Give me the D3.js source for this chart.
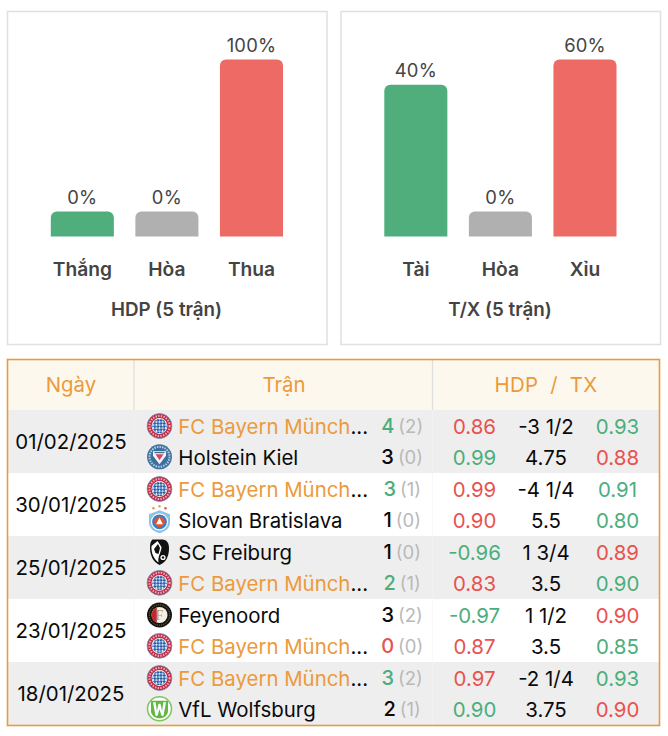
<!DOCTYPE html>
<html><head><meta charset="utf-8">
<script src="https://cdn.jsdelivr.net/npm/d3@7"></script>
<style>html,body{margin:0;padding:0;background:#fff}svg{display:block}text{font-family:Inter,"Noto Sans",sans-serif}</style>
</head><body><div id="c"></div>
<script>
// ---- data ----
const hdpCategories = ["Thắng","Hòa","Thua"];
const hdpValues = [0,0,100];
const hdpTitle = "HDP (5 trận)";
const txCategories = ["Tài","Hòa","Xỉu"];
const txValues = [40,0,60];
const txTitle = "T/X (5 trận)";
const tableHeaders = ["Ngày","Trận","HDP  /  TX"];
const dates = ["01/02/2025","30/01/2025","25/01/2025","23/01/2025","18/01/2025"];
const homeTeams = ["FC Bayern Münch","FC Bayern Münch","SC Freiburg","Feyenoord","FC Bayern Münch"];
const awayTeams = ["Holstein Kiel","Slovan Bratislava","FC Bayern Münch","FC Bayern Münch","VfL Wolfsburg"];
const homeGoals = [4,3,1,3,3];
const awayGoals = [3,1,2,0,2];
const homeHalf = [2,1,0,2,2];
const awayHalf = [0,0,1,0,1];
const homeOdds = [0.86,0.99,-0.96,-0.97,0.97];
const awayOdds = [0.99,0.90,0.83,0.87,0.90];
const hdpLines = ["-3 1/2","-4 1/4","1 3/4","1 1/2","-2 1/4"];
const txLines = ["4.75","5.5","3.5","3.5","3.75"];
const overOdds = [0.93,0.91,0.89,0.90,0.93];
const underOdds = [0.88,0.80,0.90,0.85,0.90];
const hdpSign = [[-1,1],[-1,-1],[1,-1],[1,-1],[-1,1]];   // colour of first odds column: +1 green, -1 red
const txSign = [[1,-1],[1,1],[-1,1],[-1,1],[1,-1]];      // colour of last odds column

const GREEN="#4fae7c",GREY="#b0b0b0",RED="#ee6a64",INK="#444",TG="#4bae7c",TR="#e8524f",OR="#ec9a3c",BK="#0a0a0a";
const svg=d3.select("#c").append("svg").attr("width",668).attr("height",736);
const defs=svg.append("defs");
const pat=defs.append("pattern").attr("id","loz").attr("width",4.4).attr("height",4.4).attr("patternUnits","userSpaceOnUse").attr("patternTransform","rotate(45) translate(0.5 0.5)");
pat.append("rect").attr("width",4.4).attr("height",4.4).attr("fill","#1f5aa8");
pat.append("rect").attr("width",2).attr("height",2).attr("fill","#e6ecf6");
pat.append("rect").attr("x",2.2).attr("y",2.2).attr("width",2).attr("height",2).attr("fill","#e6ecf6");

function panel(x0,cats,vals,title){
  const w=319.5;
  svg.append("rect").attr("x",x0+.5).attr("y",11.5).attr("width",w).attr("height",333)
    .attr("fill","#fff").attr("stroke","#e0e0e0").attr("stroke-width",1.5);
  const x=d3.scaleBand().domain(cats).range([x0+43.8,x0+276]).paddingInner(.2544).paddingOuter(0);
  const maxV=d3.max(vals);
  const h=d3.scalePow().exponent(.45).domain([0,1]).range([25,177]);
  const base=236.5;
  const col=[GREEN,GREY,RED];
  const g=svg.append("g");
  cats.forEach((c,i)=>{
    const bx=x(c),bw=x.bandwidth(),bh=h(vals[i]/maxV),r=6,t=base-bh;
    const p=d3.path();p.moveTo(bx,base);p.lineTo(bx,t+r);p.arcTo(bx,t,bx+r,t,r);p.lineTo(bx+bw-r,t);p.arcTo(bx+bw,t,bx+bw,t+r,r);p.lineTo(bx+bw,base);p.closePath();
    g.append("path").attr("fill",col[i]).attr("d",p.toString());
    g.append("text").attr("x",bx+bw/2).attr("y",t-7.6).attr("text-anchor","middle")
     .attr("font-size",18.4).attr("letter-spacing",.2).attr("fill",INK).text(vals[i]+"%");
    g.append("text").attr("x",bx+bw/2).attr("y",275.8).attr("text-anchor","middle")
     .attr("font-size",19.2).attr("font-weight",600).attr("fill",INK).text(c);
  });
  svg.append("text").attr("x",x0+159.5).attr("y",316.4).attr("text-anchor","middle")
     .attr("font-size",18.8).attr("font-weight",600).attr("fill",INK).text(title);
}
panel(7,hdpCategories,hdpValues,hdpTitle);
panel(340.5,txCategories,txValues,txTitle);

// ---- table ----
const FS=20.4;
const rowY=d3.scaleBand().domain(dates).range([410,725]);
svg.append("rect").attr("x",7).attr("y",359).attr("width",653).attr("height",51).attr("fill","#fdf8ee");
dates.forEach((d,i)=>{
  if(i%2==0) svg.append("rect").attr("x",7).attr("y",rowY(d)).attr("width",653).attr("height",rowY.bandwidth()).attr("fill","#eeeeee");
});
[134,432.5].forEach(x=>{
  svg.append("line").attr("x1",x).attr("x2",x).attr("y1",359).attr("y2",410).attr("stroke","#dedede").attr("stroke-width",1.2);
  svg.append("line").attr("x1",x).attr("x2",x).attr("y1",410).attr("y2",725).attr("stroke","#f4f4f4").attr("stroke-width",1).attr("stroke-opacity",.6);
});
svg.append("rect").attr("x",7.5).attr("y",359.5).attr("width",652).attr("height",366).attr("fill","none").attr("stroke",OR).attr("stroke-width",1.6);
[[71,0,0],[284,1,0],[546,2,.25]].forEach(([x,i,ls])=>{
  svg.append("text").attr("x",x).attr("y",392).attr("text-anchor","middle").attr("font-size",FS).attr("fill",OR)
    .attr("letter-spacing",ls).style("white-space","pre").text(tableHeaders[i]);
});

function bayern(g){
  g.append("circle").attr("r",12.4).attr("fill","#c12a42").attr("stroke","#6f8fc0").attr("stroke-width",.8);
  g.append("circle").attr("r",10.1).attr("fill","none").attr("stroke","#eeb4bd").attr("stroke-width",2).attr("stroke-dasharray","1.4 1.3");
  g.append("circle").attr("r",7.9).attr("fill","#fff");
  g.append("circle").attr("r",7.3).attr("fill","url(#loz)");
}
function kiel(g){
  g.append("circle").attr("r",12.5).attr("fill","#40749f");
  g.append("circle").attr("r",10).attr("fill","none").attr("stroke","#bcd2e4").attr("stroke-width",2).attr("stroke-dasharray","1.4 1.2");
  g.append("circle").attr("r",8).attr("fill","#3d6f9c");
  g.append("path").attr("d","M-6.5,-5.5H6.5V-1L0,7.5L-6.5,-1Z").attr("fill","#f2f5f8");
  g.append("path").attr("d","M-4,-2.5H4L0,3.5Z").attr("fill","#d9455a");
  g.append("rect").attr("x",-5).attr("y",-4.8).attr("width",10).attr("height",1.2).attr("fill","#3d6f9c");
}
function slovan(g){
  [[-6,-11.5,"#d9a05a"],[0,-13.5,"#c9a878"],[6,-11.5,"#c96a5a"]].forEach(([x,y,c])=>g.append("circle").attr("cx",x).attr("cy",y).attr("r",1.3).attr("fill",c));
  g.append("path").attr("d","M0,-9.5L10.5,-5.5V2.5C10.5,9 5,12 0,13.5C-5,12 -10.5,9 -10.5,2.5V-5.5Z").attr("fill","#8fc0e8");
  g.append("circle").attr("r",8.6).attr("cy",2).attr("fill","#fff");
  g.append("circle").attr("r",7.4).attr("cy",2).attr("fill","#2f80c8");
  g.append("circle").attr("r",5.4).attr("cy",2).attr("fill","#e2512f");
  g.append("path").attr("d","M-3.4,4.5L0,-2L3.4,4.5Z").attr("fill","#fff");
}
function freiburg(g){
  g.append("path").attr("d","M-7,-12.5H3C7,-12.5 9.5,-9 9.5,-4C9.5,4 7,10 0,13C-6,10 -9.5,4 -9.5,-4C-9.5,-8 -9,-11 -7,-12.5Z").attr("fill","#111");
  g.append("path").attr("d","M-2,-11L-8,-6C-8.5,0 -6,7 -1,10.5C-2,4 2,0 2,-5Z").attr("fill","#fff");
  g.append("path").attr("d","M-5.5,-3L-1.5,-8L0.5,-4L-1,2L-4,1Z").attr("fill","#111");
  g.append("circle").attr("cx",3.5).attr("cy",5.5).attr("r",2.6).attr("fill","#fff");
  g.append("circle").attr("cx",3.5).attr("cy",5.5).attr("r",1.2).attr("fill","#111");
}
function feyenoord(g){
  g.append("circle").attr("r",12.5).attr("fill","#15140f");
  g.append("circle").attr("r",10.2).attr("fill","none").attr("stroke","#8d7a4f").attr("stroke-width",.9).attr("stroke-dasharray","1.2 1");
  g.append("circle").attr("r",8).attr("fill","#f3efe6");
  g.append("path").attr("d","M-2.7,-7.5A8,8 0 0 0 -2.7,7.5Z").attr("fill","#c1272d");
  g.append("text").attr("y",5).attr("text-anchor","middle").attr("font-size",14).style("font-family","Liberation Serif").attr("fill","#b79a5e").text("F");
}
function wolfsburg(g){
  g.append("circle").attr("r",12).attr("fill","#fff").attr("stroke","#7cc65c").attr("stroke-width",1.5);
  g.append("path").attr("d","M-8.5,-8H8.5V2C8.5,7 4,9.5 0,9.5C-4,9.5 -8.5,7 -8.5,2Z").attr("fill","#62b844");
  g.append("path").attr("d","M-6.5,-6.5L-3.8,-6.5L-2.6,2.5L-1,-5H1L2.6,2.5L3.8,-6.5L6.5,-6.5L4,7H2L0,0.5L-2,7H-4Z").attr("fill","#fff");
}
const crest={"FC Bayern Münch":bayern,"Holstein Kiel":kiel,"Slovan Bratislava":slovan,"SC Freiburg":freiburg,"Feyenoord":feyenoord,"VfL Wolfsburg":wolfsburg};
const odd=v=>v.toFixed(2);

dates.forEach((d,i)=>{
  const t=rowY(d),bw=rowY.bandwidth();
  const lineY=[t+16,t+46.8];
  svg.append("text").attr("x",71).attr("y",t+bw/2+7.3).attr("text-anchor","middle").attr("font-size",FS).attr("fill",BK).text(d);
  [[homeTeams,homeGoals,homeHalf,homeOdds,hdpLines,overOdds,0],[awayTeams,awayGoals,awayHalf,awayOdds,txLines,underOdds,1]].forEach(([tm,gl,hf,od,ln,ou,k])=>{
    const y=lineY[k],name=tm[i],isB=name==="FC Bayern Münch";
    const cg=svg.append("g").attr("transform",`translate(159.5,${y})`);
    crest[name](cg);
    const tx=svg.append("text").attr("x",178.3).attr("y",y+7.8).attr("font-size",FS).attr("fill",BK);
    tx.append("tspan").attr("fill",isB?OR:BK).text(name);
    if(isB) tx.append("tspan").attr("fill",BK).text("...");
    const other=k==0?awayGoals[i]:homeGoals[i];
    const sc=!isB?BK:(gl[i]>other?TG:TR);
    const st=svg.append("text").attr("x",402.2).attr("y",y+7.4).attr("text-anchor","middle").attr("font-size",18.5);
    st.append("tspan").attr("fill",sc).attr("font-weight",500).attr("font-size",20).text(gl[i]);
    st.append("tspan").attr("fill","#b9b9b9").attr("dx",4).text("("+hf[i]+")");
    svg.append("text").attr("x",474.5).attr("y",y+7.8).attr("text-anchor","middle").attr("font-size",FS)
      .attr("fill",hdpSign[i][k]>0?TG:TR).text(odd(od[i]));
    svg.append("text").attr("x",546).attr("y",y+7.8).attr("text-anchor","middle").attr("font-size",FS).attr("fill",BK).text(ln[i]);
    svg.append("text").attr("x",617.5).attr("y",y+7.8).attr("text-anchor","middle").attr("font-size",FS)
      .attr("fill",txSign[i][k]>0?TG:TR).text(odd(ou[i]));
  });
});
</script></body></html>
